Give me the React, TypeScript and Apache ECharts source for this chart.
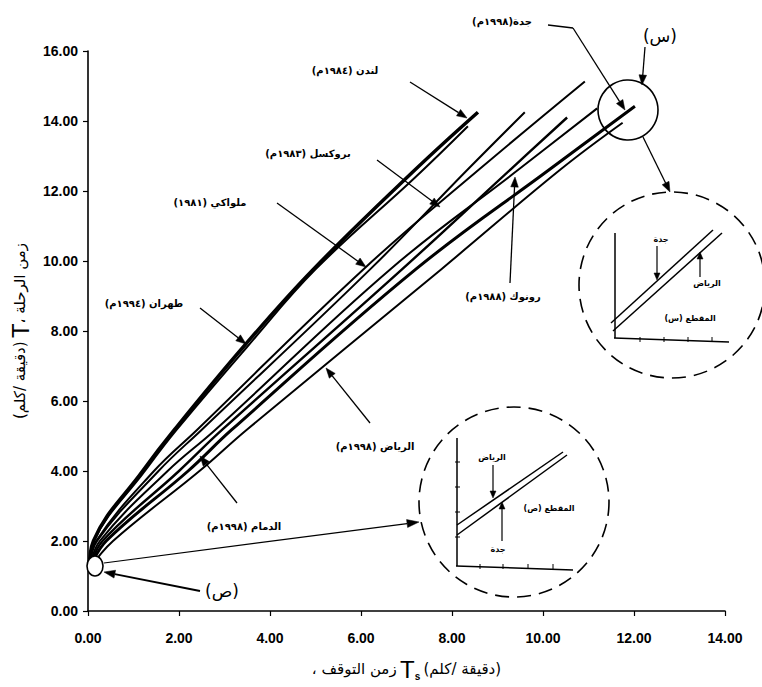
import React, { useEffect, useRef } from "react";
import * as echarts from "echarts";

// ---- data ----
const cityNames = [
  "لندن (١٩٨٤م)",
  "طهران (١٩٩٤م)",
  "ملواكي (١٩٨١)",
  "بروكسل (١٩٨٣م)",
  "رونوك (١٩٨٨م)",
  "الدمام (١٩٩٨م)",
  "جدة (١٩٩٨م)",
  "الرياض (١٩٩٨م)",
];
const london = [[0.03, 1.2], [0.12, 2.0], [1.2, 4.0], [1.9, 5.18], [3.45, 7.6], [4.95, 9.76], [7.2, 12.62], [8.57, 14.25]];
const tehran = [[0.03, 1.2], [0.13, 2.0], [1.25, 4.0], [1.95, 5.18], [3.5, 7.55], [5.0, 9.76], [7.2, 12.4], [8.35, 13.85]];
const milwaukee = [[0.03, 1.2], [0.18, 2.0], [1.45, 4.0], [2.4, 5.18], [6.05, 9.76], [8.6, 12.62], [10.92, 15.13]];
const brussels = [[0.03, 1.2], [0.2, 2.0], [1.55, 4.0], [2.5, 5.18], [6.2, 9.76], [8.35, 12.62], [9.6, 14.25]];
const roanoke = [[0.03, 1.2], [0.26, 2.0], [1.75, 4.0], [2.8, 5.18], [6.64, 9.76], [9.47, 12.62], [11.19, 14.36]];
const dammam = [[0.03, 1.2], [0.32, 2.0], [2.0, 4.0], [2.95, 5.18], [6.9, 9.76], [9.29, 12.62], [10.53, 14.1]];
const jeddah = [[0.03, 1.2], [0.4, 2.0], [2.2, 4.0], [3.16, 5.18], [7.2, 9.76], [10.15, 12.62], [12.02, 14.42]];
const riyadh = [[0.03, 1.2], [0.55, 2.0], [2.45, 4.0], [3.49, 5.18], [7.76, 9.76], [10.39, 12.62], [11.75, 13.95]];
const xAxisMax = 14;
const yAxisMax = 16;
const tickStep = 2;

const allSeries = [london, tehran, milwaukee, brussels, roanoke, dammam, jeddah, riyadh];
const widths = [3.5, 2, 2, 2, 2, 2.4, 3, 2];

const AR = '"DejaVu Sans", sans-serif';
const rl = (s: string) => "\u200F" + s + "\u200F";

function txt(x: number, y: number, text: string, size = 10, bold = true) {
  return {
    type: "text",
    x,
    y,
    silent: true,
    z: 100,
    style: {
      text,
      fontSize: size,
      fontWeight: bold ? "bold" : "normal",
      fontFamily: AR,
      fill: "#000",
      align: "center",
      verticalAlign: "middle",
      textAlign: "center",
      textVerticalAlign: "middle",
    },
  };
}

function arrow(x1: number, y1: number, x2: number, y2: number, head = 10, hw = 3.8, lw = 1.3) {
  const dx = x2 - x1;
  const dy = y2 - y1;
  const L = Math.sqrt(dx * dx + dy * dy) || 1;
  const ux = dx / L;
  const uy = dy / L;
  const bx = x2 - ux * head;
  const by = y2 - uy * head;
  const nx = -uy;
  const ny = ux;
  return [
    {
      type: "line",
      silent: true,
      z: 100,
      shape: { x1, y1, x2: bx, y2: by },
      style: { stroke: "#000", lineWidth: lw },
    },
    {
      type: "polygon",
      silent: true,
      z: 100,
      shape: {
        points: [
          [x2, y2],
          [bx + nx * hw, by + ny * hw],
          [bx - nx * hw, by - ny * hw],
        ],
      },
      style: { fill: "#000", stroke: "#000", lineWidth: 0.5 },
    },
  ];
}

function seg(x1: number, y1: number, x2: number, y2: number, lw = 1.3) {
  return {
    type: "line",
    silent: true,
    z: 100,
    shape: { x1, y1, x2, y2 },
    style: { stroke: "#000", lineWidth: lw },
  };
}

function buildGraphics() {
  const g: any[] = [];
  // city labels with arrows
  g.push(txt(345, 70, rl(cityNames[0])));
  g.push(...arrow(410, 82, 467, 118));
  g.push(txt(308, 153, rl(cityNames[3])));
  g.push(...arrow(377, 160, 440, 207));
  g.push(txt(210, 202, rl(cityNames[2])));
  g.push(...arrow(277, 203, 366, 267));
  g.push(txt(144, 303, rl(cityNames[1])));
  g.push(...arrow(200, 308, 246, 344));
  g.push(txt(503, 296, rl(cityNames[4])));
  g.push(...arrow(510, 283, 515, 177));
  g.push(txt(375, 446, rl(cityNames[7])));
  g.push(...arrow(370, 423, 326, 368));
  g.push(txt(244, 526, rl(cityNames[5])));
  g.push(...arrow(237, 503, 200, 456));
  g.push(txt(502, 21, rl("جدة(١٩٩٨م)")));
  g.push(seg(548, 25, 573, 28));
  g.push(...arrow(573, 28, 625, 110));

  // (س) marker
  g.push(txt(660, 36, rl("(س)"), 17, false));
  g.push(...arrow(645, 47, 642, 85));
  g.push({
    type: "circle",
    silent: true,
    z: 99,
    shape: { cx: 628, cy: 110, r: 30 },
    style: { fill: "none", stroke: "#000", lineWidth: 1.6 },
  });
  g.push(...arrow(643, 137, 670, 192));

  // inset 1 (س)
  g.push({
    type: "circle",
    silent: true,
    z: 99,
    shape: { cx: 672, cy: 285, r: 93 },
    style: { fill: "none", stroke: "#000", lineWidth: 1.6, lineDash: [14, 8] },
  });
  g.push(seg(615, 233, 615, 338, 1.5));
  g.push(seg(614, 338, 729, 342, 1.5));
  [640, 664, 688, 712].forEach((x) => g.push(seg(x, 337, x, 342, 1)));
  g.push(seg(611, 323, 713, 230, 1.5));
  g.push(seg(613, 331, 722, 233, 1.5));
  g.push(txt(661, 239, rl("جدة"), 8));
  g.push(...arrow(657, 246, 657, 280, 7, 3, 1.2));
  g.push(txt(707, 283, rl("الرياض"), 8));
  g.push(...arrow(700, 277, 700, 252, 7, 3, 1.2));
  g.push(txt(690, 318, rl("المقطع (س)"), 8));

  // (ص) marker
  g.push(...arrow(104, 563, 419, 522, 12, 4, 1.2));
  g.push({
    type: "ellipse",
    silent: true,
    z: 101,
    shape: { cx: 95, cy: 566, rx: 8, ry: 10 },
    style: { fill: "#fff", stroke: "#000", lineWidth: 1.6 },
  });
  g.push(txt(222, 591, rl("(ص)"), 17, false));
  g.push(...arrow(200, 591, 104, 572, 11, 4, 2));

  // inset 2 (ص)
  g.push({
    type: "circle",
    silent: true,
    z: 99,
    shape: { cx: 514, cy: 502, r: 95 },
    style: { fill: "none", stroke: "#000", lineWidth: 1.6, lineDash: [14, 8] },
  });
  g.push(seg(457, 438, 457, 566, 1.5));
  g.push(seg(456, 566, 573, 570, 1.5));
  [462, 487, 512, 537].forEach((y) => g.push(seg(455, y, 460, y, 1)));
  [480, 503, 528, 553].forEach((x) => g.push(seg(x, 564, x, 569, 1)));
  g.push(seg(457, 525, 563, 452, 1.5));
  g.push(seg(457, 535, 567, 455, 1.5));
  g.push(txt(492, 457, rl("الرياض"), 8));
  g.push(...arrow(493, 465, 493, 498, 7, 3, 1.2));
  g.push(txt(498, 549, rl("جدة"), 8));
  g.push(...arrow(502, 541, 502, 502, 7, 3, 1.2));
  g.push(txt(549, 508, rl("المقطع (ص)"), 8));
  return g;
}

export default function App() {
  const ref = useRef<HTMLDivElement>(null);
  useEffect(() => {
    if (!ref.current) return;
    const chart = echarts.init(ref.current, undefined, { renderer: "svg" });
    const labelStyle = {
      fontFamily: '"Liberation Sans", Arial, sans-serif',
      fontWeight: "bold",
      fontSize: 14,
      color: "#000",
      formatter: (v: number) => v.toFixed(2),
    };
    chart.setOption({
      animation: false,
      backgroundColor: "#fff",
      grid: { left: 88, right: 37, top: 51, bottom: 76, containLabel: false },
      xAxis: {
        type: "value",
        min: 0,
        max: xAxisMax,
        interval: tickStep,
        splitLine: { show: false },
        axisLine: { lineStyle: { color: "#000", width: 1.6 } },
        axisTick: { lineStyle: { color: "#000", width: 1.2 }, length: 5 },
        axisLabel: { ...labelStyle, margin: 20 },
        name: "{a|" + rl("زمن التوقف ،") + "} {T|T}{s|s} {a|" + rl("(دقيقة /كلم)") + "}",
        nameLocation: "middle",
        nameGap: 46,
        nameTextStyle: {
          rich: {
            a: { fontFamily: AR, fontSize: 15, color: "#000" },
            T: { fontFamily: '"Liberation Sans", Arial', fontSize: 24, color: "#000" },
            s: { fontFamily: '"Liberation Sans", Arial', fontSize: 10, fontWeight: "bold", color: "#000", verticalAlign: "bottom", padding: [9, 0, 0, 0] },
          },
        },
      },
      yAxis: {
        type: "value",
        min: 0,
        max: yAxisMax,
        interval: tickStep,
        splitLine: { show: false },
        axisLine: { lineStyle: { color: "#000", width: 1.6 } },
        axisTick: { lineStyle: { color: "#000", width: 1.2 }, length: 5 },
        axisLabel: { ...labelStyle, margin: 10 },
        name: "{a|" + rl("(دقيقة /كلم)") + "} {T|T}{a|" + rl("زمن الرحلة ،") + "}",
        nameLocation: "middle",
        nameGap: 56,
        nameTextStyle: {
          rich: {
            a: { fontFamily: AR, fontSize: 15, color: "#000" },
            T: { fontFamily: '"Liberation Sans", Arial', fontSize: 24, color: "#000" },
          },
        },
      },
      series: allSeries.map((d, i) => ({
        name: cityNames[i],
        type: "line",
        data: d,
        showSymbol: false,
        symbol: "none",
        smooth: 0.4,
        lineStyle: { color: "#000", width: widths[i] },
        z: 3,
      })),
      graphic: buildGraphics(),
    });
    return () => chart.dispose();
  }, []);
  return (
    <div
      ref={ref}
      style={{ position: "absolute", left: 0, top: 0, width: 762, height: 687, background: "#fff" }}
    />
  );
}
